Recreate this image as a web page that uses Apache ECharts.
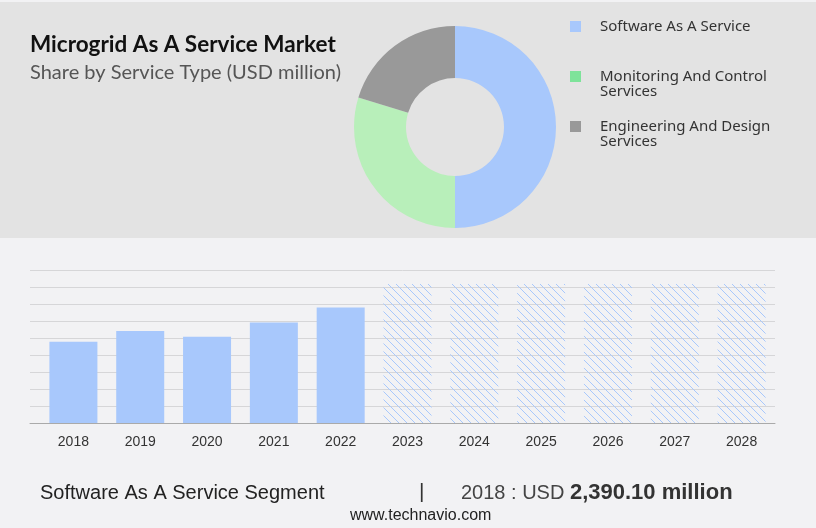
<!DOCTYPE html>
<html><head><meta charset="utf-8">
<script src="https://cdn.jsdelivr.net/npm/echarts@6/dist/echarts.min.js"></script>
<style>html,body{margin:0;padding:0;background:#f2f2f4;}#c{width:816px;height:528px;}</style>
</head><body><div id="c"></div>
<script>
const years = ['2018','2019','2020','2021','2022','2023','2024','2025','2026','2027','2028'];
const historicValues = [2390.1, 2705, 2537, 2958, 3399, null, null, null, null, null, null];
const forecastValues = [null, null, null, null, null, 4090, 4090, 4090, 4090, 4090, 4090];
const yTicks = [0, 500, 1000, 1500, 2000, 2500, 3000, 3500, 4000, 4500];
const segmentNames = ['Software As A Service', 'Monitoring And Control Services', 'Engineering And Design Services'];
const segmentShares = [50.0, 29.7, 20.3];

const BLUE = '#a8c8fc';
const pieColors = ['#a8c8fc', '#b8efba', '#999999'];
const legendColors = ['#a8c8fc', '#7ee39a', '#999999'];

function hatch() {
  const s = 8, c = document.createElement('canvas');
  c.width = s; c.height = s;
  const g = c.getContext('2d');
  g.strokeStyle = BLUE; g.lineWidth = 1;
  g.beginPath();
  g.moveTo(0, 0); g.lineTo(s, s);
  g.moveTo(-s/2, s/2); g.lineTo(s/2, s*1.5);
  g.moveTo(s/2, -s/2); g.lineTo(s*1.5, s/2);
  g.stroke();
  return c;
}

const chart = echarts.init(document.getElementById('c'));
const fmt = v => v.toLocaleString('en-US', {minimumFractionDigits: 2, maximumFractionDigits: 2});
const wrapName = n => n.replace(/ Services$/, '\nServices');
const legendTops = [19, 69, 119];
const NARROW = 'Liberation Sans Narrow, Liberation Sans';
// square icon sitting at the top of a taller box, so it lines up with the first text line
const TOP_SQUARE = 'path://M0,0L11,0L11,11L0,11Z M0,25.99L0.01,25.99L0.01,26L0,26Z';

chart.setOption({
  backgroundColor: '#f2f2f4',
  animation: false,
  graphic: [
    {type: 'rect', z: -10, shape: {x: 0, y: 2, width: 816, height: 236}, style: {fill: '#e3e3e3'}}
  ],
  title: [
    {text: 'Microgrid As A Service Market', left: 30, top: 33, padding: 0,
     textStyle: {fontFamily: 'Lato', fontWeight: 'bold', fontSize: 22.5, color: '#111'}},
    {text: 'Share by Service Type (USD million)', left: 30, top: 63, padding: 0,
     textStyle: {fontFamily: 'Lato', fontWeight: 'normal', fontSize: 20, color: '#555'}},
    {text: 'Software As A Service Segment', left: 40, top: 483, padding: 0,
     textStyle: {fontFamily: NARROW, fontWeight: 'normal', fontSize: 20, color: '#222'}},
    {text: '|', left: 419, top: 482, padding: 0,
     textStyle: {fontFamily: NARROW, fontWeight: 'normal', fontSize: 21, color: '#333'}},
    {text: '{a|' + years[0] + ' : USD }{b|' + fmt(historicValues[0]) + ' million}', left: 461, top: 482, padding: 0,
     textStyle: {rich: {
       a: {fontFamily: NARROW, fontSize: 20, fontWeight: 'normal', color: '#444'},
       b: {fontFamily: NARROW, fontSize: 22, fontWeight: 'bold', color: '#333'}
     }}},
    {text: 'www.technavio.com', left: 350, top: 508, padding: 0,
     textStyle: {fontFamily: NARROW, fontWeight: 'normal', fontSize: 16, color: '#222'}}
  ],
  legend: segmentNames.map((n, i) => {
    const two = n.includes('Services');
    return {
      data: [{name: n, itemStyle: {color: legendColors[i]}}],
      orient: 'vertical', left: 570, top: legendTops[i], padding: 0,
      itemWidth: 11, itemHeight: two ? 26 : 11, itemGap: 0,
      icon: two ? TOP_SQUARE : 'rect',
      selectedMode: false,
      formatter: wrapName,
      textStyle: {fontFamily: 'Noto Sans', fontSize: 15, color: '#333', lineHeight: 15,
                  padding: [0, 0, 0, 14]}
    };
  }),
  grid: [
    {left: 30, right: 41, top: 270, bottom: 105},
    {left: 40, right: 41, top: 270, bottom: 105}
  ],
  xAxis: [
    {type: 'value', gridIndex: 0, min: 0, max: 1, show: true,
     axisLine: {show: true, lineStyle: {color: '#aaaaaa', width: 1}},
     axisTick: {show: false}, axisLabel: {show: false}, splitLine: {show: false}},
    {type: 'category', gridIndex: 1, data: years,
     axisLine: {show: false}, axisTick: {show: false},
     axisLabel: {margin: 12, fontFamily: 'Liberation Sans', fontSize: 14, color: '#333'}}
  ],
  yAxis: [
    {type: 'value', gridIndex: 0, min: yTicks[0], max: yTicks[yTicks.length - 1], interval: yTicks[1] - yTicks[0],
     axisLine: {show: false}, axisTick: {show: false}, axisLabel: {show: false},
     splitLine: {lineStyle: {color: '#d6d6d8', width: 1}}},
    {type: 'value', gridIndex: 1, min: yTicks[0], max: yTicks[yTicks.length - 1], show: false,
     splitLine: {show: false}}
  ],
  series: [
    {type: 'bar', xAxisIndex: 1, yAxisIndex: 1, data: historicValues, barWidth: 48, stack: 'a',
     itemStyle: {color: BLUE}},
    {type: 'bar', xAxisIndex: 1, yAxisIndex: 1, data: forecastValues, barWidth: 48, stack: 'a',
     itemStyle: {color: {image: hatch(), repeat: 'repeat'}}},
    {type: 'pie', center: [455, 127], radius: [49, 101], startAngle: 90, clockwise: true,
     label: {show: false}, labelLine: {show: false}, silent: true,
     data: segmentNames.map((n, i) => ({name: n, value: segmentShares[i], itemStyle: {color: pieColors[i]}}))}
  ]
});
</script></body></html>
